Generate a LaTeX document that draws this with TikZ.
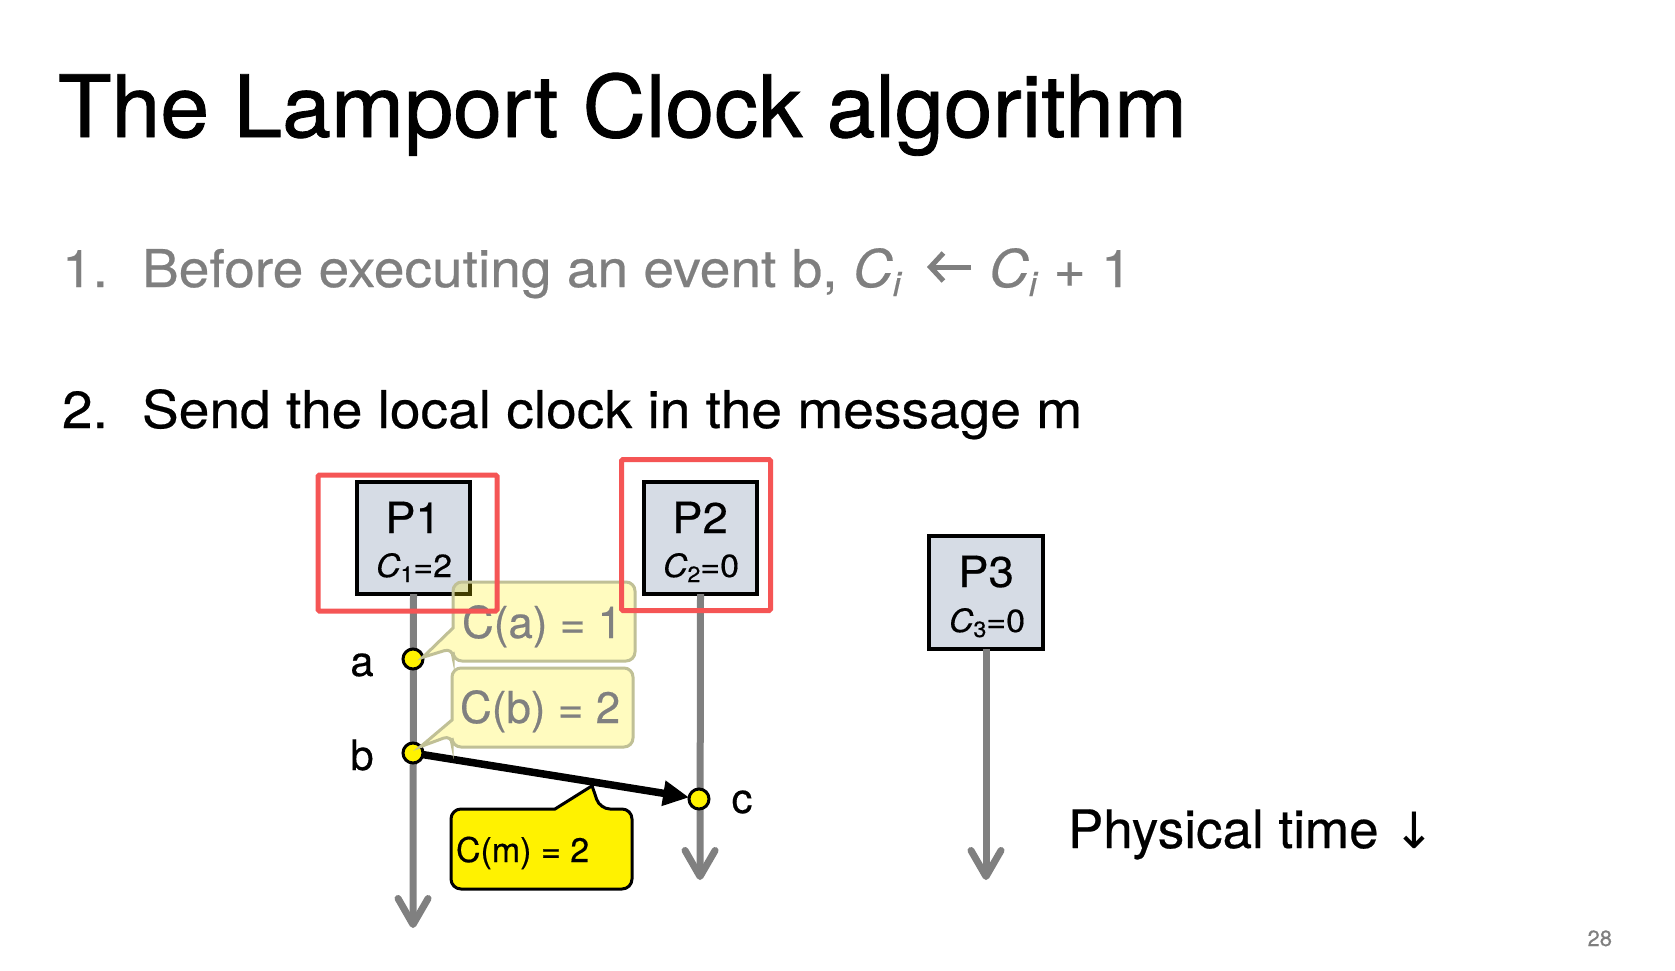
\documentclass[tikz,border=0pt]{standalone}
\usepackage{fontspec}
\setmainfont{TeX Gyre Heros}[FakeStretch=1.06,FakeBold=0.4]
\newfontfamily\titlefont{TeX Gyre Heros}[FakeStretch=1.02,FakeBold=1.0]
\newfontfamily\diagfont{TeX Gyre Heros}[FakeBold=0.4]
\newfontfamily\arrfont{DejaVu Sans}
\usetikzlibrary{arrows.meta,calc}
\definecolor{lifegray}{RGB}{128,128,128}
\definecolor{boxfill}{RGB}{214,220,229}
\definecolor{redhl}{RGB}{245,85,85}
\definecolor{textgray}{RGB}{127,127,127}
\definecolor{fadeborder}{RGB}{192,192,150}
\definecolor{fadetext}{RGB}{128,128,128}
\newcommand\fs[1]{\fontsize{#1}{#1}\selectfont}
\newcommand\lsub[2]{\raisebox{-#1}{#2}}
\begin{document}
\begin{tikzpicture}[x=1pt,y=-1pt,
  every node/.style={inner sep=0pt,outer sep=0pt},
  procbox/.style={draw=black,line width=4pt,fill=boxfill,minimum width=113pt,minimum height=112pt},
  lifeline/.style={draw=lifegray,line width=7pt,-{Straight Barb[length=26pt,width=30pt,round]}},
  event/.style={circle,draw=black,line width=3pt,fill=yellow,minimum size=20pt},
  msg/.style={draw=black,line width=7.5pt,-{Triangle[length=26pt,width=24pt]}},
  fadecall/.style={fill=yellow,fill opacity=0.25,draw=fadeborder,draw opacity=1,line width=3pt},
  msgcall/.style={fill=yellow,draw=black,line width=3pt},
  hlbox/.style={draw=redhl,line width=5pt,rounded corners=1.5pt},
  evlabel/.style={anchor=base,font=\diagfont\fs{42}},
  assignarrow/.style={draw=textgray,line width=5pt,-{Straight Barb[length=13pt,width=28pt]}},
]
\useasboundingbox[fill=white] (0,0) rectangle (1675,971);

% texts
\node[anchor=base west,font=\titlefont\fs{86}] (title) at (58,137) {The Lamport Clock algorithm};
\node[anchor=base west,font=\fs{52},text=textgray] (n1) at (62,287) {1.};
\node[anchor=base west,font=\fs{52},text=textgray] (l1) at (142,287)
  {Before executing an event b, \textit{C}\lsub{9pt}{\fs{34}\textit{i}}};
\coordinate (asgfrom) at (971,267);
\coordinate (asgto) at (927,267);
\draw[assignarrow] (asgfrom) -- (asgto);
\node[anchor=base west,font=\fs{52},text=textgray] (l1b) at (989,287)
  {\textit{C}\lsub{9pt}{\fs{34}\textit{i}} + 1};
\node[anchor=base west,font=\fs{52}] (n2) at (62,428) {2.};
\node[anchor=base west,font=\fs{52}] (l2) at (142,428) {Send the local clock in the message m};

% process boxes
\node[procbox] (p1) at (413.5,538) {};
\node[procbox] (p2) at (700.5,538) {};
\node[procbox,minimum width=114pt,minimum height=113pt] (p3) at (986,592.5) {};
\node[anchor=base,font=\fs{43}] (p1t) at (413,533) {P1};
\node[anchor=base,font=\fs{32}] (p1c) at (414,577) {\textit{C}\lsub{5pt}{\fs{22}1}=2};
\node[anchor=base,font=\fs{43}] (p2t) at (700,533) {P2};
\node[anchor=base,font=\fs{32}] (p2c) at (701,577) {\textit{C}\lsub{5pt}{\fs{22}2}=0};
\node[anchor=base,font=\fs{43}] (p3t) at (986,587) {P3};
\node[anchor=base,font=\fs{32}] (p3c) at (987,632) {\textit{C}\lsub{5pt}{\fs{22}3}=0};

% lifelines
\coordinate (e1) at (413,928);
\coordinate (e2) at (700,880);
\coordinate (e3) at (986,880);
\draw[lifeline] (p1.south) -- (e1);
\draw[lifeline] (p2.south) -- (e2);
\draw[lifeline] (p3.south) -- (e3);

% events and message
\node[event] (a) at (413,659) {};
\node[event] (b) at (413,753) {};
\node[event] (c) at (699,799) {};
\draw[msg] (b) -- (c);

% message callout
\coordinate (mtip) at ($(b)!0.626!(c)+(0,4)$);
\path[msgcall] (520,809) [rounded corners=10pt] -- (451,809) -- (451,889) -- (632,889) -- (632,809) -- (600,809)
  [sharp corners] -- (mtip) -- (555,809) [rounded corners=10pt] -- cycle;
\node[anchor=base west,font=\diagfont\fs{34}] (cm) at (456,862) {C(m) = 2};

% faded callouts
\path[fadecall] (544,582) [rounded corners=9pt] -- (635,582) -- (635,661) -- (453,661) -- (453,648)
  [sharp corners] -- (a.10) -- (453,628) [rounded corners=9pt] -- (453,582) -- cycle;
\node[anchor=base west,font=\diagfont\fs{44},text=fadetext] (ca) at (462,638) {C(a) = 1};
\path[fadecall] (543,668) [rounded corners=9pt] -- (633,668) -- (633,747) -- (452,747) -- (452,735)
  [sharp corners] -- (b.40) -- (452,720) [rounded corners=9pt] -- (452,668) -- cycle;
\node[anchor=base west,font=\diagfont\fs{44},text=fadetext] (cb) at (460,723) {C(b) = 2};

% highlight boxes
\node[hlbox,minimum width=179pt,minimum height=136pt] (h1) at (407.5,543) {};
\node[hlbox,minimum width=149pt,minimum height=151pt] (h2) at (696,535) {};

% event labels
\node[evlabel] (la) at (362,676) {a};
\node[evlabel] (lb) at (362,770) {b};
\node[evlabel] (lc) at (742,813) {c};

\node[anchor=base west,font=\diagfont\fs{53}] (pt) at (1068,848) {Physical time {\arrfont\fs{50}↓}};
\node[anchor=base east,font=\diagfont\fs{22},text=textgray] (pg) at (1612,946) {28};
\end{tikzpicture}
\end{document}
